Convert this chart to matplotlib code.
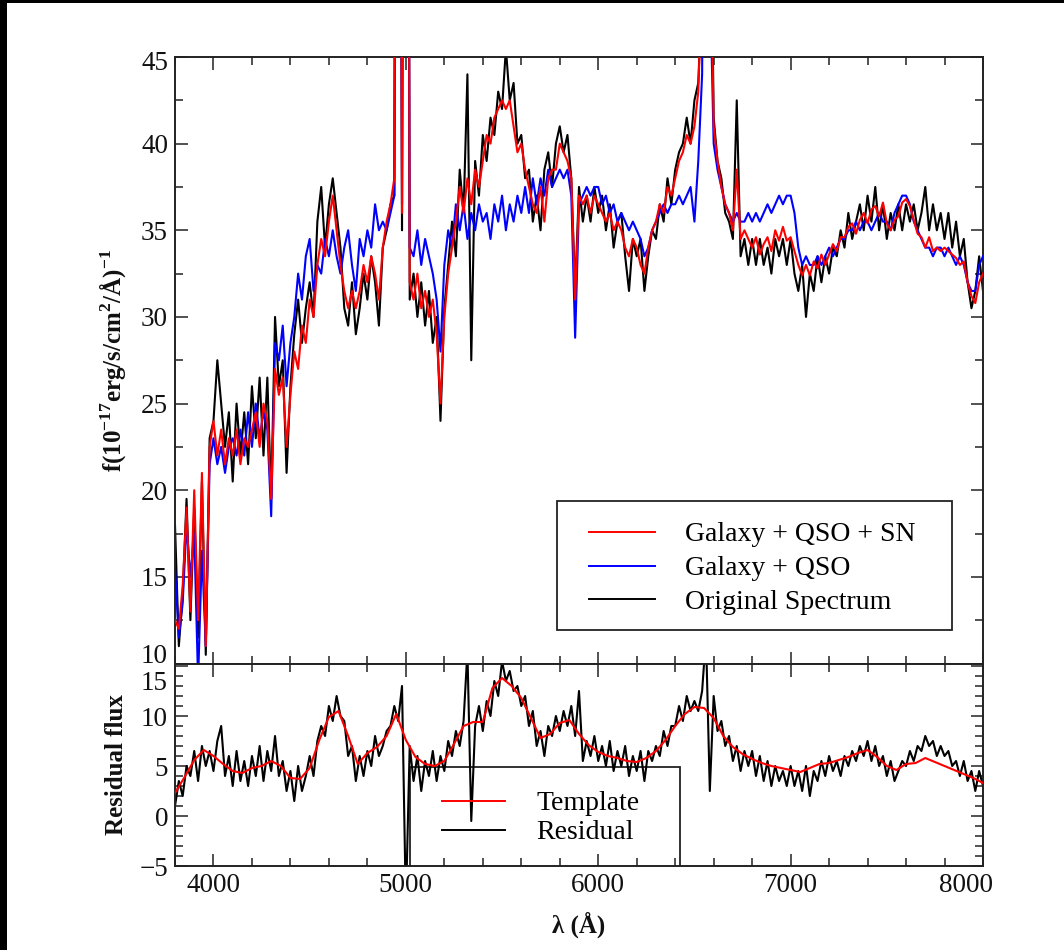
import numpy as np
import matplotlib
matplotlib.use('Agg')
import matplotlib.pyplot as plt
from matplotlib.ticker import MultipleLocator, FixedLocator, FuncFormatter
from matplotlib.patches import Rectangle
from matplotlib.lines import Line2D

# ---------------- data ----------------
wavelength = np.arange(3800, 8001, 20)

flux_gal_qso_sn = [
    12.5, 12.0, 14.5, 19.0, 13.0, 20.0, 12.5, 21.0, 11.0, 22.5,   # 3800-3980
    24.0, 22.0, 23.5, 21.5, 23.0, 22.0, 23.5, 21.5, 23.0, 22.5,   # 4000-4180
    23.5, 24.5, 22.5, 25.0, 24.0, 19.5, 27.0, 25.5, 26.5, 22.5,   # 4200-4380
    25.5, 28.0, 27.0, 29.5, 28.5, 31.0, 30.0, 33.0, 34.5, 33.5,   # 4400-4580
    35.5, 37.0, 35.0, 33.0, 31.5, 30.5, 31.5, 30.5, 31.5, 33.0,   # 4600-4780
    32.0, 33.5, 32.5, 31.0, 34.0, 35.5, 36.5, 38.0, 110.0, 36.0,  # 4800-4980
    130.0, 32.0, 31.0, 32.5, 30.5, 31.5, 30.0, 31.0, 29.0, 25.0,  # 5000-5180
    30.0, 32.5, 34.0, 35.5, 37.5, 36.0, 38.0, 36.5, 38.5, 37.5,   # 5200-5380
    39.0, 40.5, 40.0, 41.5, 42.0, 42.5, 42.0, 42.5, 41.0, 39.5,   # 5400-5580
    40.0, 38.5, 37.5, 36.5, 36.0, 37.5, 35.5, 38.0, 38.5, 38.5,   # 5600-5780
    40.0, 39.5, 39.0, 38.0, 31.0, 37.0, 36.5, 37.0, 36.0, 37.0,   # 5800-5980
    36.5, 36.0, 35.5, 36.0, 35.0, 35.5, 35.0, 34.0, 33.5, 34.5,   # 6000-6180
    34.0, 33.0, 32.5, 34.0, 35.0, 35.5, 36.5, 36.0, 37.5, 37.0,   # 6200-6380
    38.0, 39.0, 39.5, 40.5, 40.0, 41.0, 43.0, 50.0, 90.0, 55.0,   # 6400-6580
    41.0, 39.0, 37.5, 36.5, 36.0, 35.0, 38.5, 34.5, 35.0, 34.5,   # 6600-6780
    34.0, 34.6, 33.6, 34.2, 34.6, 33.8, 35.0, 34.4, 35.2, 34.4,   # 6800-6980
    34.6, 33.8, 33.0, 32.4, 33.0, 32.4, 33.2, 32.8, 33.6, 33.0,   # 7000-7180
    33.6, 34.2, 33.8, 34.6, 34.6, 35.2, 35.4, 34.8, 35.6, 36.0,   # 7200-7380
    35.4, 36.2, 36.4, 35.8, 36.6, 35.4, 35.0, 35.6, 35.8, 36.6,   # 7400-7580
    36.8, 36.4, 35.6, 34.8, 34.6, 34.0, 34.6, 33.8, 34.0, 33.8,   # 7600-7780
    34.0, 33.8, 33.6, 33.4, 33.0, 33.2, 32.0, 31.2, 30.8, 32.0,   # 7800-7980
    32.5,                                                         # 8000
]

flux_gal_qso = [
    15.5, 11.5, 13.5, 18.0, 15.0, 17.5, 9.0, 16.5, 11.0, 21.5,
    23.0, 21.5, 22.5, 21.0, 22.5, 23.0, 22.0, 23.5, 22.0, 24.5,
    22.5, 25.0, 23.0, 24.5, 23.5, 18.5, 28.5, 27.5, 29.5, 26.0,
    28.5, 30.0, 32.5, 31.0, 33.5, 34.5, 31.5, 33.0, 32.5, 34.5,
    33.5, 35.0, 33.5, 32.5, 34.0, 35.0, 33.0, 31.5, 34.5, 33.5,
    35.0, 34.0, 36.5, 35.0, 35.5, 35.0, 36.0, 37.0, 105.0, 36.5,
    120.0, 34.0, 33.5, 35.0, 33.0, 34.5, 33.5, 32.5, 31.0, 28.0,
    33.0, 35.0, 34.0, 36.5, 35.0, 36.5, 34.5, 36.0, 35.0, 36.5,
    35.5, 36.0, 34.5, 36.5, 35.5, 37.0, 35.0, 36.5, 35.5, 37.0,
    36.0, 37.5, 36.0, 38.0, 36.5, 38.0, 37.0, 38.5, 37.5, 38.0,
    38.5, 38.0, 38.5, 37.0, 28.8, 36.5, 37.0, 37.5, 37.0, 37.5,
    37.5, 36.5, 37.0, 36.0, 36.5, 35.5, 36.0, 35.5, 35.0, 35.5,
    35.0, 34.5, 33.5, 34.0, 35.0, 35.5, 36.0, 36.5, 36.0, 36.5,
    36.5, 37.0, 36.5, 37.0, 37.5, 35.5, 39.0, 44.0, 85.0, 50.0,
    40.0, 38.5, 37.5, 36.5, 36.0, 35.5, 36.0, 35.5, 35.5, 36.0,
    35.5, 36.0, 35.5, 36.0, 36.5, 36.0, 36.5, 37.0, 36.5, 37.0,
    37.0, 36.0, 34.0, 33.0, 33.5, 33.0, 33.0, 33.5, 33.0, 33.5,
    34.0, 33.5, 34.0, 34.5, 34.5, 35.0, 35.0, 35.5, 35.0, 35.5,
    35.5, 35.0, 35.5, 36.0, 35.5, 35.5, 35.0, 36.0, 36.5, 37.0,
    37.0, 36.5, 35.5, 35.0, 34.5, 34.0, 34.0, 33.5, 34.0, 34.0,
    33.5, 34.0, 33.5, 33.0, 33.5, 33.0, 32.0, 31.5, 31.5, 33.0,
    33.5,
]

flux_original = [
    18.0, 11.0, 14.0, 19.5, 12.5, 19.0, 11.5, 20.5, 10.5, 23.0,
    24.0, 27.5, 25.0, 22.5, 24.5, 20.5, 25.0, 22.0, 24.5, 21.5,
    26.0, 23.0, 26.5, 22.0, 26.5, 19.5, 30.0, 26.0, 27.5, 21.0,
    26.0, 29.0, 31.0, 28.5, 30.5, 32.0, 30.0, 35.5, 37.5, 34.0,
    36.5, 38.0, 36.0, 34.0, 30.5, 29.5, 32.0, 29.0, 30.5, 32.5,
    31.0, 33.5, 32.0, 29.5, 34.0, 35.0, 36.5, 37.0, 115.0, 35.0,
    125.0, 31.0, 32.5, 30.0, 32.0, 29.5, 31.5, 28.5, 30.0, 24.0,
    30.5, 33.0, 35.5, 33.5, 38.5, 36.0, 44.0, 27.5, 39.0, 37.0,
    40.5, 39.0, 41.5, 40.5, 43.0, 42.0, 45.5, 42.5, 43.5, 40.0,
    40.5, 38.0, 38.5, 35.5, 37.0, 35.0, 38.5, 39.5, 37.5, 40.0,
    41.0, 39.5, 40.5, 38.0, 31.5, 37.5, 35.5, 37.0, 35.5, 37.5,
    36.0, 37.0, 35.0, 36.5, 34.0, 35.5, 36.0, 33.5, 31.5, 34.5,
    33.5, 34.5, 31.5, 33.5, 35.0, 34.5, 36.5, 35.5, 38.0, 36.5,
    38.5, 39.5, 40.0, 41.5, 40.0, 42.5, 43.5, 49.0, 100.0, 60.0,
    41.5, 39.0, 38.0, 36.0, 35.5, 34.5, 42.5, 33.5, 34.5, 33.0,
    34.5, 33.0, 34.5, 33.0, 34.0, 32.5, 34.5, 33.5, 34.5, 33.0,
    34.5, 32.5, 31.5, 33.0, 30.0, 32.5, 31.5, 33.5, 32.0, 33.5,
    32.5, 34.0, 33.5, 35.0, 34.0, 36.0, 34.5, 35.5, 36.5, 35.0,
    37.0, 35.5, 37.5, 35.0, 36.5, 34.5, 36.0, 35.0, 36.5, 35.0,
    36.5, 35.5, 36.5, 35.0, 36.0, 37.5, 35.0, 36.5, 35.0, 36.0,
    34.5, 36.0, 34.0, 35.5, 33.5, 34.5, 32.0, 30.5, 31.5, 33.5,
    31.5,
]

residual_flux = [
    1.0, 3.5, 2.0, 5.0, 4.0, 6.5, 3.5, 7.0, 5.0, 6.5,
    4.5, 7.5, 9.0, 4.0, 6.0, 3.0, 6.5, 3.5, 5.5, 3.0,
    6.0, 4.0, 7.0, 3.5, 6.5, 4.5, 8.0, 4.0, 5.5, 2.5,
    4.5, 1.5, 5.0, 2.5, 4.0, 6.0, 4.0, 7.5, 9.0, 8.0,
    11.0, 9.5, 12.0, 10.0, 9.5, 6.0, 7.0, 3.5, 6.0, 4.0,
    6.5, 5.0, 8.0, 6.0, 7.0, 8.5, 9.0, 11.0, 9.5, 13.0,
    -9.0, 7.0, 3.5, 6.0, 2.5, 5.5, 4.0, 6.5, 3.5, 6.0,
    4.5, 7.5, 6.0, 8.5, 7.0, 9.5, 16.5, -0.5, 9.0, 11.0,
    8.5, 11.5, 10.0, 13.5, 12.0, 15.5, 13.5, 14.5, 12.5, 13.0,
    11.0, 12.0, 9.0, 10.5, 7.0, 8.5, 6.0, 9.0, 8.0, 10.0,
    8.5, 10.5, 9.0, 11.0, 8.0, 12.5, 5.5, 7.5, 6.0, 8.0,
    5.5, 7.0, 5.0, 7.5, 4.5, 6.5, 5.0, 7.0, 4.0, 6.0,
    4.5, 6.5, 3.5, 6.5, 5.5, 7.0, 6.0, 8.5, 7.0, 9.0,
    9.0, 11.0, 9.5, 12.0, 10.5, 11.5, 10.5, 12.5, 18.0, 2.5,
    12.0, 8.5, 9.5, 7.0, 8.0, 5.5, 7.0, 4.5, 6.5, 5.0,
    6.5, 4.0, 6.0, 3.5, 5.5, 3.0, 5.0, 3.5, 4.5, 3.0,
    5.0, 3.0, 4.5, 2.5, 5.0, 2.0, 4.5, 3.5, 5.5, 4.0,
    6.0, 4.5, 5.5, 4.0, 6.0, 5.0, 6.5, 5.5, 7.0, 6.0,
    7.5, 5.5, 7.0, 5.0, 6.0, 4.0, 5.5, 3.5, 4.5, 5.5,
    5.0, 6.5, 5.5, 7.0, 6.5, 8.0, 7.0, 7.5, 6.0, 7.0,
    6.0, 6.5, 5.0, 5.5, 4.0, 5.5, 3.5, 4.5, 2.5, 4.5,
    3.0,
]

template_wavelength = np.arange(3800, 8001, 50)
template_flux = [
    2.3, 3.9, 5.6, 6.6, 6.0, 5.2, 4.5, 4.3, 4.8, 5.0,
    5.5, 5.0, 3.8, 3.7, 4.8, 7.6, 9.9, 10.5, 8.0, 5.2,
    6.3, 6.9, 8.0, 10.2, 7.6, 5.9, 5.2, 5.0, 5.5, 7.2,
    9.0, 9.4, 9.4, 12.8, 13.8, 13.0, 11.8, 9.8, 7.8, 8.2,
    9.3, 9.6, 8.2, 7.1, 6.4, 6.0, 5.8, 5.5, 5.4, 5.8,
    6.5, 7.6, 9.0, 10.2, 10.9, 10.8, 9.8, 8.0, 6.9, 6.2,
    5.7, 5.3, 5.0, 4.8, 4.6, 4.4, 4.8, 5.2, 5.3, 5.6,
    5.9, 6.3, 6.6, 5.9, 5.0, 4.6, 5.2, 5.3, 5.8, 5.4,
    5.0, 4.6, 4.2, 3.8, 3.3,
]

upper_labels = ["Galaxy + QSO + SN", "Galaxy + QSO", "Original Spectrum"]
lower_labels = ["Template", "Residual"]
x_ticks = [4000, 5000, 6000, 7000, 8000]
upper_y_ticks = [10, 15, 20, 25, 30, 35, 40, 45]
lower_y_ticks = [-5, 0, 5, 10, 15]

# ---------------- style ----------------
plt.rcParams['font.family'] = ['Liberation Serif', 'DejaVu Serif']
plt.rcParams['mathtext.fontset'] = 'custom'
plt.rcParams['mathtext.rm'] = 'Liberation Serif'
plt.rcParams['mathtext.bf'] = 'Liberation Serif:bold'
plt.rcParams['axes.unicode_minus'] = True

W, H = 1064, 950
fig = plt.figure(figsize=(W / 100, H / 100), dpi=100)
fig.patch.set_facecolor('white')


def fx(px):
    return px / W


def fy(py):
    return 1 - py / H


L, R, T, M, B = 175, 983, 57, 663.5, 866
ax1 = fig.add_axes([fx(L), fy(M), fx(R) - fx(L), fy(T) - fy(M)])
ax2 = fig.add_axes([fx(L), fy(B), fx(R) - fx(L), fy(M) - fy(B)])

spine_c = '#222222'
tick_c = '#111111'
fs_tick = 19.5
lw = 1.5

for ax in (ax1, ax2):
    for s in ax.spines.values():
        s.set_linewidth(1.4)
        s.set_color(spine_c)
    ax.set_xlim(3800, 8000)
    ax.xaxis.set_major_locator(FixedLocator(x_ticks))
    ax.xaxis.set_minor_locator(MultipleLocator(200))
    ax.tick_params(which='both', direction='in', top=True, right=True,
                   color=spine_c, width=1.1, labelsize=fs_tick, labelcolor=tick_c)
    ax.tick_params(which='major', length=9, pad=5)
    ax.tick_params(which='minor', length=5.5)

# upper panel
ax1.plot(wavelength, flux_original, color='black', lw=lw, zorder=2)
ax1.plot(wavelength, flux_gal_qso, color='#0000ff', lw=lw, zorder=3)
ax1.plot(wavelength, flux_gal_qso_sn, color='#ff0000', lw=lw, zorder=4)
ax1.set_ylim(10, 45)
ax1.yaxis.set_major_locator(FixedLocator(upper_y_ticks))
ax1.yaxis.set_minor_locator(MultipleLocator(2.5))
ax1.tick_params(axis='x', labelbottom=False)
ax1.yaxis.set_major_formatter(FuncFormatter(
    lambda v, p: '' if v in (10, 45) else '%d' % v))
ax1.set_ylabel('f(10$^{\\mathbf{-17}}$erg/s/cm$^{\\mathbf{2}}$/Å)$^{\\mathbf{-1}}$',
               fontsize=18, fontweight='bold', color=tick_c)
ax1.yaxis.set_label_coords(-0.058, 0.5)

# labels kept inside the limits (as in the original)
lab_kw = dict(fontsize=fs_tick, color=tick_c, annotation_clip=False,
              textcoords='offset pixels', ha='right', va='center')
ax1.annotate('45', xy=(0, 45), xycoords=ax1.get_yaxis_transform(),
             xytext=(-7, -7), **lab_kw)
ax1.annotate('10', xy=(0, 10), xycoords=ax1.get_yaxis_transform(),
             xytext=(-7, 7), **lab_kw)

h = [Line2D([], [], color='#ff0000', lw=1.4),
     Line2D([], [], color='#0000ff', lw=1.4),
     Line2D([], [], color='black', lw=1.4)]
ax1.legend(h, upper_labels, loc='upper left',
           bbox_to_anchor=(fx(589), fy(522)), bbox_transform=fig.transFigure,
           frameon=False, borderpad=0, borderaxespad=0, fontsize=20,
           handlelength=2.37, handletextpad=1.08, labelspacing=0.3)
fig.add_artist(Rectangle((fx(557), fy(630)), fx(952) - fx(557), fy(501) - fy(630),
                         transform=fig.transFigure, fill=False, ec=spine_c, lw=1.3))

# lower panel
ax2.plot(wavelength, residual_flux, color='black', lw=lw, zorder=2)
ax2.plot(template_wavelength, template_flux, color='#ff0000', lw=1.5, zorder=3)
ax2.set_ylim(-5, 15.25)
ax2.yaxis.set_major_locator(FixedLocator(lower_y_ticks))
ax2.yaxis.set_minor_locator(MultipleLocator(1))
ax2.yaxis.set_major_formatter(FuncFormatter(
    lambda v, p: '' if v == 15 else ('\u2212%d' % -v if v < 0 else '%d' % v)))
ax2.xaxis.set_major_formatter(FuncFormatter(
    lambda v, p: '' if v == 8000 else '%d' % v))
ax2.annotate('15', xy=(0, 15), xycoords=ax2.get_yaxis_transform(),
             xytext=(-7, -18), **lab_kw)
ax2.annotate('8000', xy=(8000, 0), xycoords=ax2.get_xaxis_transform(),
             xytext=(-17, -7), fontsize=fs_tick, color=tick_c,
             annotation_clip=False, textcoords='offset pixels',
             ha='center', va='top')
ax2.set_ylabel('Residual flux', fontsize=18, fontweight='bold', color=tick_c)
ax2.yaxis.set_label_coords(-0.058, 0.5)
ax2.set_xlabel('λ (Å)', fontsize=18, fontweight='bold', color=tick_c)
ax2.xaxis.set_label_coords(0.5, -0.225)

h2 = [Line2D([], [], color='#ff0000', lw=1.4),
      Line2D([], [], color='black', lw=1.4)]
ax2.legend(h2, lower_labels, loc='upper left',
           bbox_to_anchor=(fx(442), fy(791)), bbox_transform=fig.transFigure,
           frameon=False, borderpad=0, borderaxespad=0, fontsize=20,
           handlelength=2.25, handletextpad=1.15, labelspacing=0.12)
ax2.add_patch(Rectangle(((410 - L) / (R - L), -0.3), (680 - 410) / (R - L),
                        (B - 767) / (B - M) + 0.3, transform=ax2.transAxes,
                        fill=False, ec=spine_c, lw=1.3, clip_on=True, zorder=1))

# black frame edges of the original screenshot
fig.add_artist(Rectangle((0, fy(3)), 1, 3 / H, transform=fig.transFigure,
                         color='black', lw=0))
fig.add_artist(Rectangle((0, 0), 7 / W, 1, transform=fig.transFigure,
                         color='black', lw=0))

fig.savefig('out.png', dpi=100, facecolor='white')
